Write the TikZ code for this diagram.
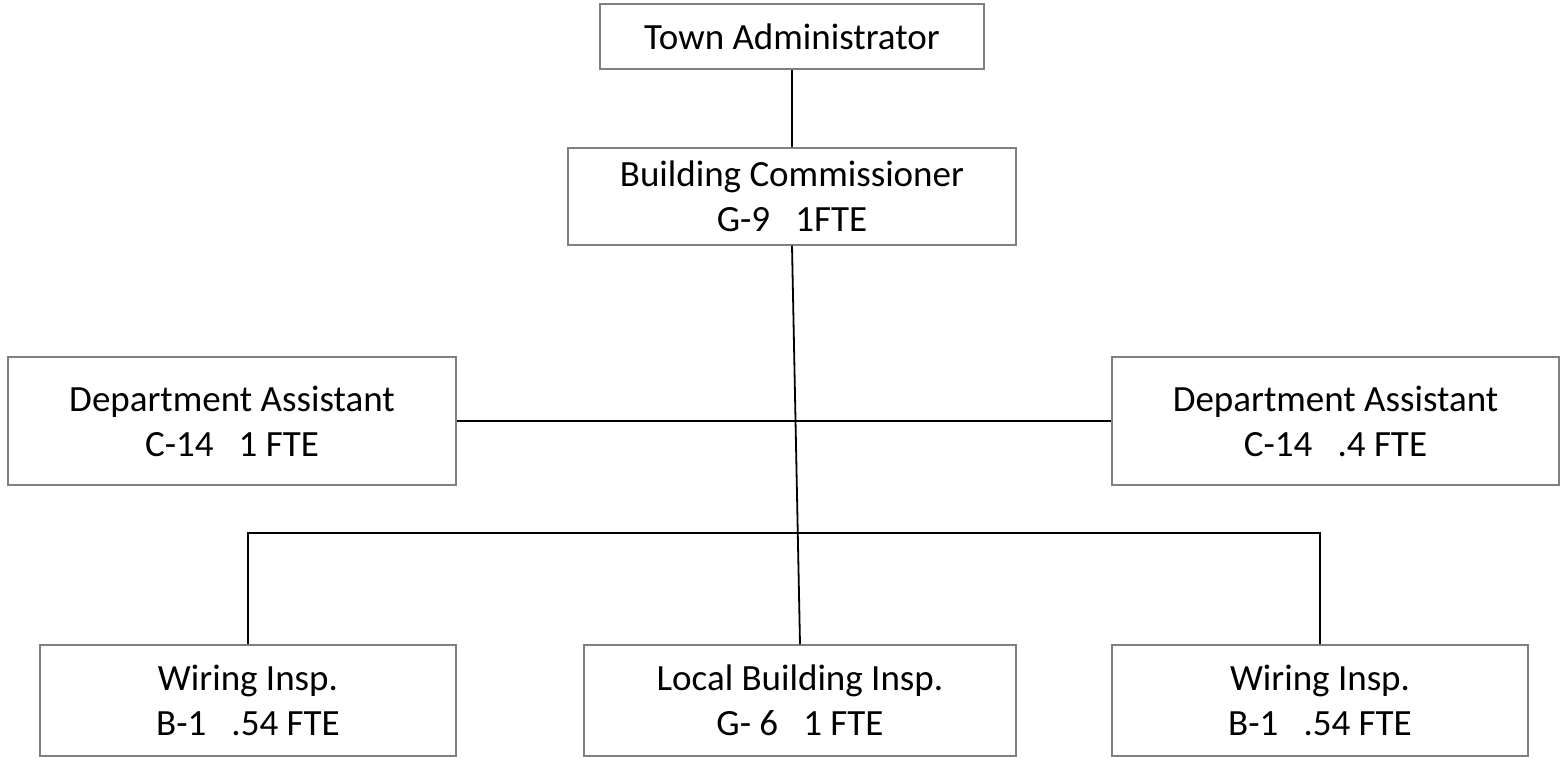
\documentclass[tikz,border=0pt]{standalone}
\usepackage{fontspec}
\setmainfont{Carlito}
\definecolor{boxgray}{RGB}{128,128,128}
\begin{document}
\begin{tikzpicture}[x=1pt,y=-1pt,
  box/.style={draw=boxgray,line width=1.5pt,rectangle,inner sep=0pt,align=center,
    font=\fontsize{37}{45}\selectfont,text=black},
  conn/.style={draw=black,line width=1.8pt}]
\useasboundingbox (0,0) rectangle (1560,759);
\node[box,minimum width=384pt,minimum height=65pt] (ta) at (792,36.5) {Town Administrator};
\node[box,minimum width=448pt,minimum height=97pt] (bc) at (792,196.5) {Building Commissioner\\G-9\ \ \ 1FTE};
\node[box,minimum width=448pt,minimum height=128pt] (dal) at (232,421) {Department Assistant\\C-14\ \ \ 1 FTE};
\node[box,minimum width=447pt,minimum height=128pt] (dar) at (1335.5,421) {Department Assistant\\C-14\ \ \ .4 FTE};
\node[box,minimum width=416pt,minimum height=111pt] (wl) at (248,700.5) {Wiring Insp.\\B-1\ \ \ .54 FTE};
\node[box,minimum width=432pt,minimum height=111pt] (lb) at (800,700.5) {Local Building Insp.\\G- 6\ \ \ 1 FTE};
\node[box,minimum width=416pt,minimum height=111pt] (wr) at (1320,700.5) {Wiring Insp.\\B-1\ \ \ .54 FTE};
\coordinate (bk) at (0,533);
\draw[conn] (ta.south) -- (bc.north);
\draw[conn] (bc.south) -- (lb.north);
\draw[conn] (dal.east) -- (dar.west);
\draw[conn] (wl.north) -- (wl.north |- bk) -| (wr.north);
\end{tikzpicture}
\end{document}
